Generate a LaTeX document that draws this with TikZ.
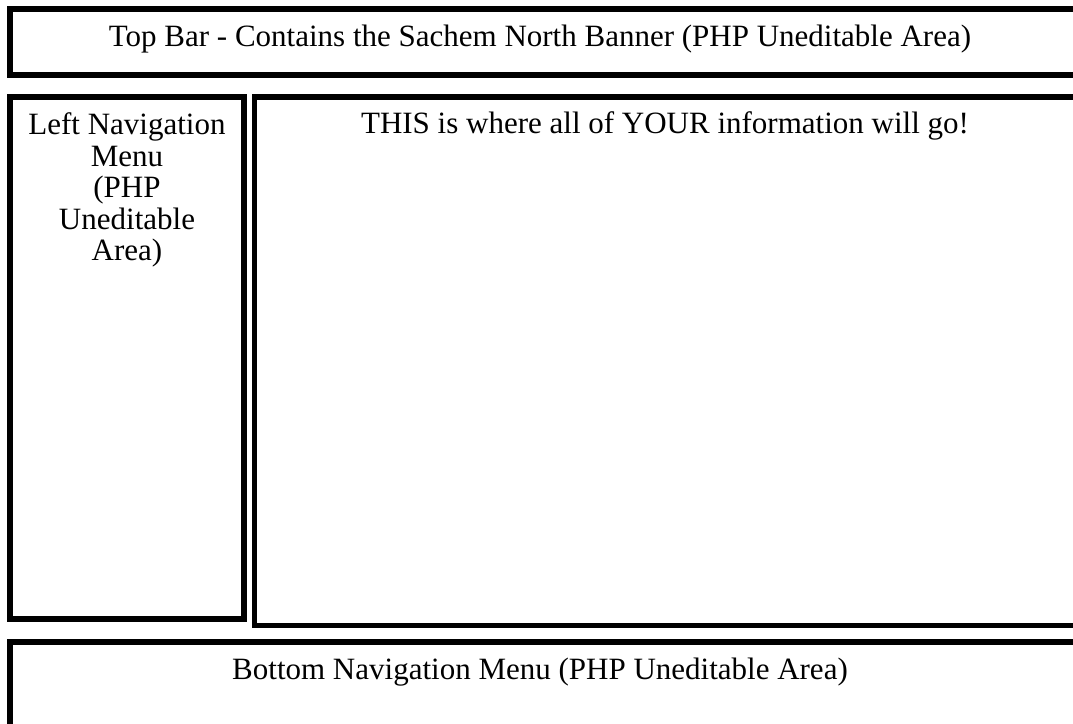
\documentclass[tikz,border=0pt]{standalone}
\usepackage{fontspec}
\setmainfont{Liberation Serif}
\begin{document}
\begin{tikzpicture}[x=1pt,y=-1pt,
  frame/.style={draw=black,line width=5.5pt,line join=miter},
  lbl/.style={font=\fontsize{31}{31.5}\selectfont,inner sep=0pt,align=center}]
\useasboundingbox (0,0) rectangle (1073,723);
\clip (0,0) rectangle (1073,723);
% top bar
\draw[frame] (1090,8.75) -- (9.75,8.75) -- (9.75,74.75) -- (1090,74.75);
% left nav
\draw[frame] (9.75,96.75) rectangle (244,619);
% main content
\draw[frame] (1090,96.75) -- (254.5,96.75) -- (254.5,625.5) -- (1090,625.5);
% bottom
\draw[frame] (1090,641.75) -- (9.75,641.75) -- (9.75,740);
\node[lbl,anchor=base] (top) at (540,46) {Top Bar - Contains the Sachem North Banner (PHP Uneditable Area)};
\node[lbl,anchor=north] (left) at (127,112.5) {Left Navigation\\Menu\\(PHP\\Uneditable\\Area)};
\node[lbl,anchor=base] (main) at (665,133) {THIS is where all of YOUR information will go!};
\node[lbl,anchor=base] (bottom) at (540,679) {Bottom Navigation Menu (PHP Uneditable Area)};
\end{tikzpicture}
\end{document}
